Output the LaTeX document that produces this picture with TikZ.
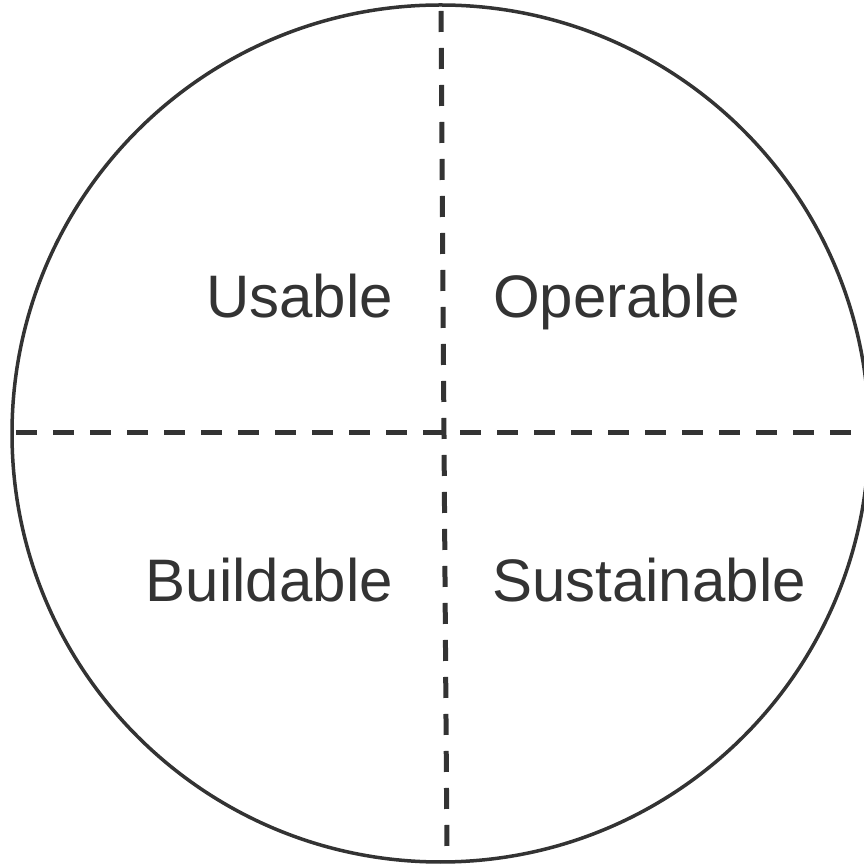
\documentclass[tikz,border=0pt]{standalone}
\usepackage{fontspec}
\setmainfont{Liberation Sans}
\definecolor{ink}{HTML}{333333}
\begin{document}
\begin{tikzpicture}[x=1bp,y=1bp,
  rim/.style={draw=ink,line width=3.5bp},
  divider/.style={draw=ink,line width=5bp,dash pattern=on 21bp off 16bp},
  label/.style={text=ink,font=\fontsize{60bp}{72bp}\selectfont,inner sep=0pt}]
\useasboundingbox (0,0) rectangle (864,867);
\coordinate (c) at (440.5,433.5);
\draw[rim] (c) circle (428.5);
\coordinate (vt) at (441,856);
\coordinate (vb) at (447,6);
\coordinate (hl) at (16,434);
\coordinate (hr) at (870,434);
\draw[divider] (vt) -- (vb);
\draw[divider] (hl) -- (hr);
\node[label,anchor=base east] (usable) at (393,549) {Usable};
\node[label,anchor=base west] (operable) at (493,549) {Operable};
\node[label,anchor=base east] (buildable) at (393,265) {Buildable};
\node[label,anchor=base west] (sustainable) at (492,265) {Sustainable};
\end{tikzpicture}
\end{document}
